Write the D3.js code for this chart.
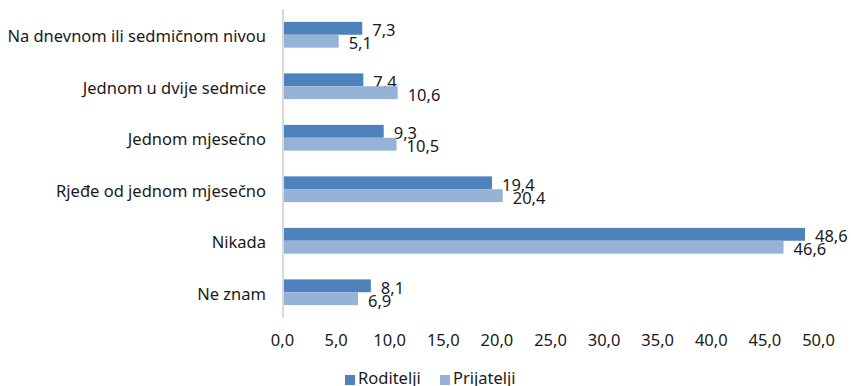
<!DOCTYPE html>
<html>
<head>
<meta charset="utf-8">
<script src="https://cdn.jsdelivr.net/npm/d3@7"></script>
<style>
  html, body { margin: 0; padding: 0; background: #fff; }
  svg { display: block; }
  text { font-family: "Noto Sans", "Open Sans", sans-serif; fill: #1a1a1a; }
</style>
</head>
<body>
<svg id="chart" width="851" height="386"></svg>
<script>
const categories = [
  "Na dnevnom ili sedmičnom nivou",
  "Jednom u dvije sedmice",
  "Jednom mjesečno",
  "Rjeđe od jednom mjesečno",
  "Nikada",
  "Ne znam"
];
const seriesNames = ["Roditelji", "Prijatelji"];
const roditelji = [7.3, 7.4, 9.3, 19.4, 48.6, 8.1];
const prijatelji = [5.1, 10.6, 10.5, 20.4, 46.6, 6.9];
const xTicks = [0, 5, 10, 15, 20, 25, 30, 35, 40, 45, 50];
const colors = ["#4F81BD", "#95B3D7"];

const seriesValues = [roditelji, prijatelji];
const fmt = v => d3.format(".1f")(v).replace(".", ",");
const FS = 16.5;

const svg = d3.select("#chart");
const x = d3.scaleLinear().domain([0, 50]).range([284, 820]);
const y = d3.scaleBand().domain(categories).range([9, 318]).paddingInner(0.5).paddingOuter(0.25);
const ys = d3.scaleBand().domain(seriesNames).range([0, y.bandwidth()]);

// bars
const groups = svg.selectAll("g.grp").data(categories).enter().append("g")
  .attr("class", "grp")
  .attr("transform", d => `translate(0,${y(d)})`);

seriesNames.forEach((s, si) => {
  groups.append("rect")
    .attr("x", x(0))
    .attr("y", ys(s))
    .attr("height", ys.bandwidth())
    .attr("width", (d, i) => x(seriesValues[si][i]) - x(0))
    .attr("fill", colors[si]);
  groups.append("text")
    .attr("x", (d, i) => x(seriesValues[si][i]) + 10)
    .attr("y", ys(s) + ys.bandwidth() / 2 + 1.5)
    .attr("dominant-baseline", "central")
    .attr("font-size", FS)
    .text((d, i) => fmt(seriesValues[si][i]));
});

// vertical axis line
svg.append("line")
  .attr("x1", x(0) - 1).attr("x2", x(0) - 1)
  .attr("y1", 9).attr("y2", 318)
  .attr("stroke", "#d9d9d9").attr("stroke-width", 2);

// category labels
svg.selectAll("text.cat").data(categories).enter().append("text")
  .attr("class", "cat")
  .attr("x", 266)
  .attr("y", d => y(d) + y.bandwidth() / 2 + 1)
  .attr("dominant-baseline", "central")
  .attr("text-anchor", "end")
  .attr("font-size", FS)
  .text(d => d);

// x axis
const xAxis = d3.axisBottom(x).tickValues(xTicks).tickFormat(fmt).tickSize(0).tickPadding(0);
const ax = svg.append("g").attr("transform", "translate(-2,334)").call(xAxis);
ax.select(".domain").remove();
ax.selectAll("text").attr("font-size", FS).attr("fill", "#1a1a1a")
  .style("font-family", '"Noto Sans", "Open Sans", sans-serif');

// legend
const legendX = [345, 440];
seriesNames.forEach((s, i) => {
  svg.append("rect").attr("x", legendX[i]).attr("y", 375).attr("width", 10).attr("height", 10).attr("fill", colors[i]);
  svg.append("text").attr("x", legendX[i] + 13).attr("y", 384).attr("font-size", FS).text(s);
});
</script>
</body>
</html>
